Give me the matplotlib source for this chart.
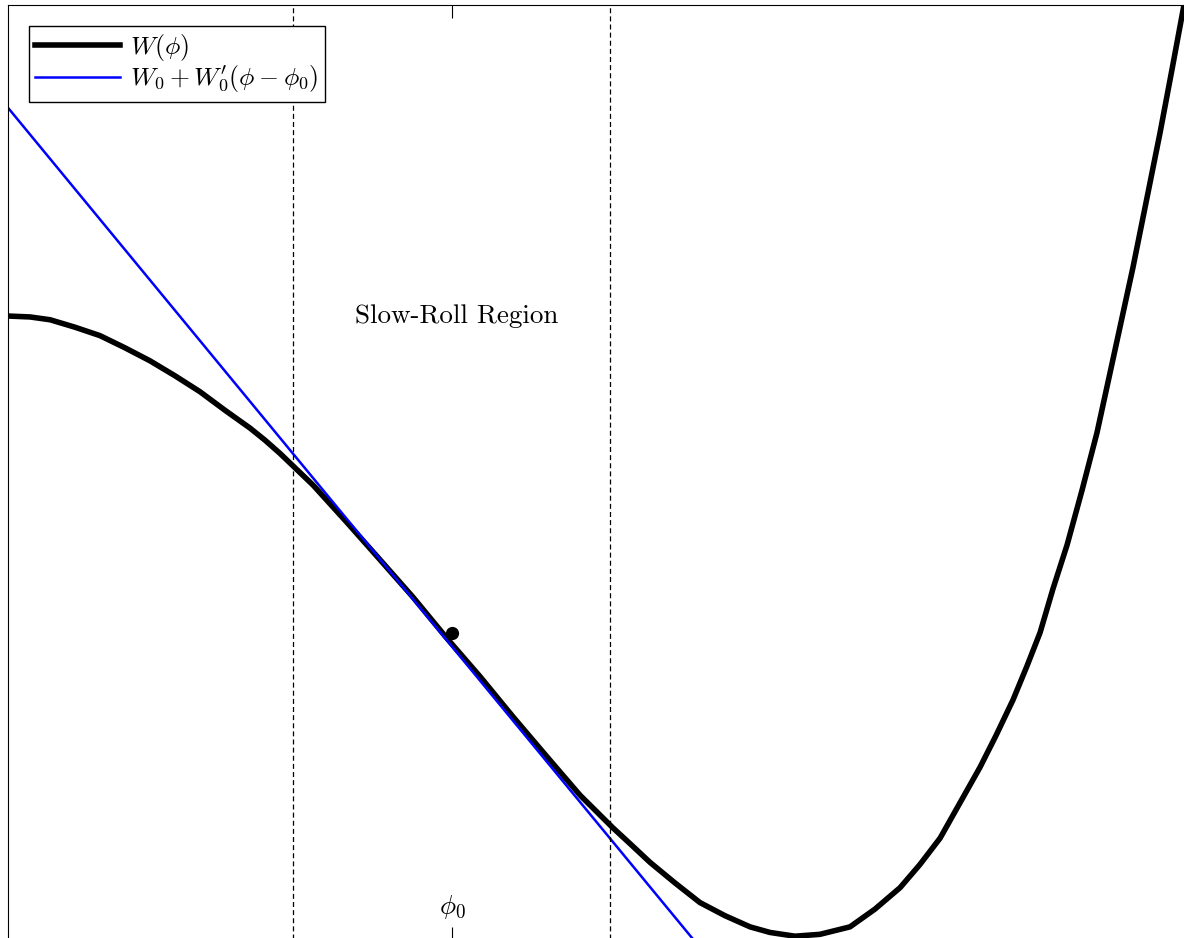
import numpy as np
import matplotlib
matplotlib.use("Agg")
import matplotlib.pyplot as plt

plt.rcParams.update({'mathtext.fontset': 'cm',
                     'font.family': 'serif',
                     'font.serif': ['cmr10'],
                     'axes.formatter.use_mathtext': True})

# potential W(phi)
phi = [0.000, 0.094, 0.179, 0.285, 0.391, 0.497, 0.604, 0.710, 0.816, 0.923,
       1.029, 1.093, 1.156, 1.297, 1.441, 1.582, 1.722, 1.866, 2.007, 2.147,
       2.292, 2.432, 2.572, 2.645, 2.730, 2.836, 2.942, 3.048, 3.155, 3.240,
       3.346, 3.452, 3.580, 3.686, 3.793, 3.878, 3.963, 4.048, 4.133, 4.201,
       4.273, 4.332, 4.388, 4.443, 4.503, 4.566, 4.630, 4.707, 4.783, 4.843,
       4.898, 4.949, 5.000]
W = [0.667, 0.666, 0.663, 0.655, 0.646, 0.633, 0.619, 0.603, 0.586, 0.566,
     0.547, 0.534, 0.520, 0.486, 0.446, 0.406, 0.366, 0.322, 0.281, 0.238,
     0.195, 0.154, 0.119, 0.102, 0.082, 0.060, 0.039, 0.025, 0.013, 0.007,
     0.003, 0.005, 0.013, 0.032, 0.055, 0.080, 0.108, 0.146, 0.184, 0.218,
     0.256, 0.292, 0.328, 0.375, 0.422, 0.480, 0.542, 0.631, 0.719, 0.794,
     0.863, 0.931, 1.000]

# linear approximation around phi0
tan_phi = [0.000, 2.912]
tan_W = [0.890, 0.000]

phi0 = 1.888
W0 = 0.328
region = [1.212, 2.560]

fig = plt.figure(figsize=(11.84, 9.38), dpi=100)
ax = fig.add_axes([8/1184, -1/938, 1176/1184, 1 - 5/938 + 1/938])

ax.plot(phi, W, color='black', lw=4, label=r'$W(\phi)$', solid_joinstyle='round')
ax.plot(tan_phi, tan_W, color='blue', lw=1.8, label=r"$W_0 + W_0'(\phi - \phi_0)$")
ax.plot([phi0], [W0], 'o', color='black', ms=8.5)
for r in region:
    ax.axvline(r, color='black', lw=0.9, linestyle=(0, (4, 2.5)))
ax.text(phi0 + 0.02, 0.667, 'Slow-Roll Region', fontsize=19.5, ha='center', va='center')

ax.set_xlim(0, 5)
ax.set_ylim(0, 1)
ax.set_xticks([phi0])
ax.set_xticklabels([r'$\phi_0$'], fontsize=19.5)
ax.set_yticks([])
ax.tick_params(axis='x', direction='in', top=True, length=9, pad=-33)
ax.spines['right'].set_visible(False)
ax.spines['bottom'].set_visible(False)

ax.legend(loc='upper left', fontsize=18.5, fancybox=False, edgecolor='black',
          framealpha=1, handlelength=3.3, borderaxespad=0.8, borderpad=0.25,
          labelspacing=0.05, handletextpad=0.4)

plt.savefig('out.png', dpi=100)
